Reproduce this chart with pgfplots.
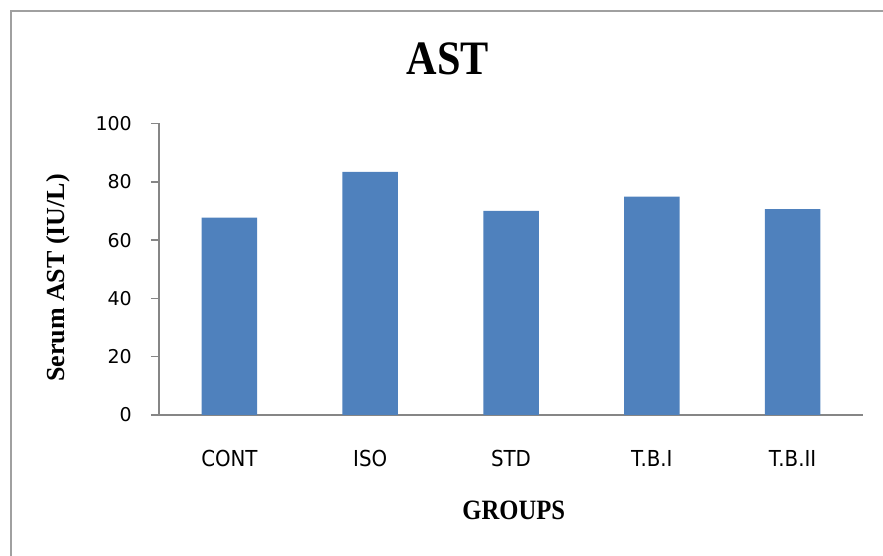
\documentclass[border=0pt]{standalone}
\usepackage{fontspec}
\setmainfont{Liberation Serif}
\newfontfamily\condfont[FakeStretch=0.88]{Liberation Serif}
\newfontfamily\tickfont{DejaVu Sans}
\newfontfamily\catfont{DejaVu Sans Condensed}
\usepackage{pgfplots}
\pgfplotsset{compat=1.18}
\definecolor{barblue}{RGB}{79,129,189}
\definecolor{axisgray}{RGB}{134,134,134}
\definecolor{framegray}{RGB}{160,160,160}

\begin{document}
\begin{tikzpicture}
  % outer chart frame (right and bottom edges fall outside the picture)
  \draw[framegray, line width=2.5pt] (11pt,0pt) -- (11pt,545pt) -- (883pt,545pt);
  \begin{axis}[
      at={(159pt,141pt)}, anchor=south west,
      scale only axis, width=704pt, height=291.5pt,
      ybar, bar width=55.5pt,
      xmin=-0.5, xmax=4.5, ymin=0, ymax=100,
      ytick={0,20,...,100},
      xtick=data,
      xticklabels={CONT,ISO,STD,T.B.I,T.B.II},
      axis x line*=bottom, axis y line*=left,
      axis line style={axisgray, line width=1.5pt, -},
      tick align=outside, major tick length=8pt,
      y tick style={axisgray, line width=1.5pt},
      x tick style={draw=none},
      /pgf/number format/assume math mode=true,
      yticklabel style={font=\tickfont\fontsize{19}{19}\selectfont,
        anchor=east, inner sep=0pt, xshift=-19pt},
      xticklabel style={font=\catfont\fontsize{22}{22}\selectfont,
        anchor=base, inner sep=0pt, yshift=-44pt},
      title={AST},
      title style={font=\condfont\fontsize{48}{48}\selectfont\bfseries,
        at={(axis description cs:0.4105,1.2007)}, anchor=center, inner sep=0pt},
      ylabel={Serum AST (IU/L)},
      ylabel style={font=\fontsize{26}{26}\selectfont\bfseries,
        at={(axis description cs:-0.1435,0.47)}, anchor=center, rotate=0, inner sep=0pt},
      xlabel={GROUPS},
      xlabel style={font=\condfont\fontsize{28}{28}\selectfont\bfseries,
        at={(axis description cs:0.504,-0.3286)}, anchor=center, inner sep=0pt},
    ]
    \addplot[fill=barblue, draw=none] coordinates {(0,67.7) (1,83.4) (2,70.0) (3,74.9) (4,70.6)};
  \end{axis}
  \pgfresetboundingbox
  \useasboundingbox (0,0) rectangle (883pt,556pt);
\end{tikzpicture}
\end{document}
